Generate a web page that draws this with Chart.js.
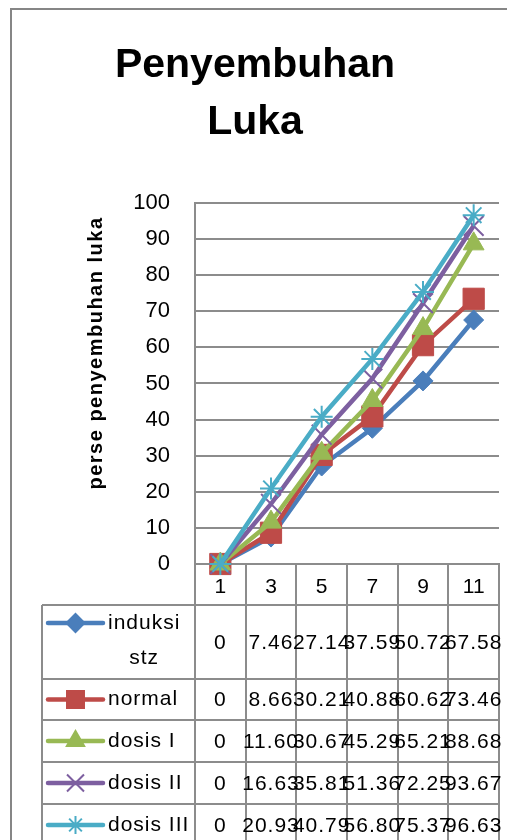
<!DOCTYPE html>
<html>
<head>
<meta charset="utf-8">
<script src="https://cdn.jsdelivr.net/npm/chart.js@4.4.0/dist/chart.umd.min.js"></script>
<style>
  html, body { margin: 0; padding: 0; background: #fff; }
  #wrap { position: relative; width: 507px; height: 840px; }
</style>
</head>
<body>
<div id="wrap"><canvas id="chart" width="507" height="840"></canvas></div>
<script>
// Days of observation (x categories)
const days = ['1', '3', '5', '7', '9', '11'];
// Series names as shown in the data table (first one wraps)
const seriesNames = [['induksi', 'stz'], ['normal'], ['dosis I'], ['dosis II'], ['dosis III']];
// Wound healing percentage per group
const induksiStz = [0, 7.46, 27.14, 37.59, 50.72, 67.58];
const normal = [0, 8.66, 30.21, 40.88, 60.62, 73.46];
const dosisI = [0, 11.60, 30.67, 45.29, 65.21, 88.68];
const dosisII = [0, 16.63, 35.81, 51.36, 72.25, 93.67];
const dosisIII = [0, 20.93, 40.79, 56.80, 75.37, 96.63];
// y axis ticks
const yTicks = [0, 10, 20, 30, 40, 50, 60, 70, 80, 90, 100];

const FONT = "'Liberation Sans', Arial, sans-serif";
const GRID = '#8c8c8c';

const styles = [
    { color: '#4A7EBB', pointStyle: 'rectRot', radius: 10, legendRadius: 9 },
    { color: '#BE4B48', pointStyle: 'rect', radius: 15, legendRadius: 12 },
    { color: '#98B954', pointStyle: 'triangle', radius: 12, legendRadius: 10 },
    { color: '#7D5FA0', pointStyle: 'crossRot', radius: 14, legendRadius: 12 },
    { color: '#4AACC6', pointStyle: 'star', radius: 11, legendRadius: 9 }
];
const allValues = [induksiStz, normal, dosisI, dosisII, dosisIII];

function fmt(v) {
    return v === 0 ? '0' : v.toFixed(2);
}

// Draws the chart frame, the rotated y title and the data table under the plot
const tablePlugin = {
    id: 'dataTable',
    afterDraw(chart) {
        const ctx = chart.ctx;
        const xs = chart.scales.x;
        const area = chart.chartArea;
        const colW = (area.right - area.left) / days.length;
        const rows = [605, 679, 720, 762, 804, 846];
        const legendLeft = 42;

        ctx.save();
        // outer chart border
        ctx.strokeStyle = '#868686';
        ctx.lineWidth = 2;
        ctx.beginPath();
        ctx.moveTo(11, 840);
        ctx.lineTo(11, 9);
        ctx.lineTo(507, 9);
        ctx.stroke();

        // y axis title
        ctx.save();
        ctx.translate(96, 353);
        ctx.rotate(-Math.PI / 2);
        ctx.font = 'bold 20px ' + FONT;
        ctx.letterSpacing = '1.5px';
        ctx.fillStyle = '#000';
        ctx.textAlign = 'center';
        ctx.textBaseline = 'middle';
        ctx.fillText('perse penyembuhan luka', 0, 0);
        ctx.restore();

        // table grid
        ctx.strokeStyle = GRID;
        ctx.lineWidth = 2;
        ctx.beginPath();
        for (let i = 0; i <= days.length; i++) {
            const x = Math.round(area.left + i * colW);
            ctx.moveTo(x, area.bottom);
            ctx.lineTo(x, 840);
        }
        ctx.moveTo(legendLeft, rows[0]);
        ctx.lineTo(legendLeft, 840);
        rows.forEach(y => {
            ctx.moveTo(legendLeft, y);
            ctx.lineTo(area.right, y);
        });
        ctx.stroke();

        // rows: legend key, name, values
        ctx.textBaseline = 'middle';
        allValues.forEach((vals, r) => {
            const top = rows[r];
            const bottom = rows[r + 1];
            const mid = (top + bottom) / 2;
            const names = seriesNames[r];
            const keyY = names.length > 1 ? top + 18 : mid;
            const st = styles[r];

            ctx.strokeStyle = st.color;
            ctx.fillStyle = st.color;
            ctx.lineWidth = 4.5;
            ctx.lineCap = 'round';
            ctx.beginPath();
            ctx.moveTo(48, keyY);
            ctx.lineTo(103, keyY);
            ctx.stroke();
            ctx.lineCap = 'butt';
            ctx.lineWidth = 2;
            Chart.helpers.drawPoint(ctx, {
                pointStyle: st.pointStyle,
                radius: st.legendRadius,
                rotation: 0,
                borderWidth: 2
            }, 75.5, keyY);

            ctx.font = '21px ' + FONT;
            ctx.letterSpacing = '1px';
            ctx.fillStyle = '#000';
            const widths = names.map(n => ctx.measureText(n).width);
            const blockW = Math.max(...widths);
            ctx.textAlign = 'center';
            names.forEach((n, k) => {
                ctx.fillText(n, 108 + blockW / 2, keyY + k * 35);
            });

            vals.forEach((v, i) => {
                ctx.fillText(fmt(v), xs.getPixelForValue(i), mid + 1);
            });
        });
        ctx.restore();
    }
};

const datasets = allValues.map((vals, i) => ({
    label: seriesNames[i].join(' '),
    data: vals,
    borderColor: styles[i].color,
    backgroundColor: styles[i].color,
    borderWidth: 4.5,
    pointStyle: styles[i].pointStyle,
    pointRadius: styles[i].radius,
    pointBorderWidth: (styles[i].pointStyle === 'crossRot' || styles[i].pointStyle === 'star') ? 2 : 1,
    pointBackgroundColor: styles[i].color,
    pointBorderColor: styles[i].color,
    tension: 0,
    clip: false,
    order: allValues.length - i
}));

new Chart(document.getElementById('chart'), {
    type: 'line',
    data: { labels: days, datasets: datasets },
    options: {
        responsive: false,
        animation: false,
        events: [],
        layout: { autoPadding: false, padding: { top: 9, left: 11, right: 8, bottom: 235 } },
        plugins: {
            legend: { display: false },
            tooltip: { enabled: false },
            title: {
                display: true,
                text: ['Penyembuhan', 'Luka'],
                color: '#000',
                font: { family: FONT, size: 41, weight: 'bold', lineHeight: 1.39 },
                padding: { top: 28, bottom: 52 }
            }
        },
        scales: {
            x: {
                type: 'category',
                offset: true,
                grid: { display: false, drawTicks: false },
                border: { display: true, color: GRID, width: 2 },
                ticks: { color: '#000', padding: 11, font: { family: FONT, size: 21 } },
                afterFit: scale => {
                    scale.height = 41;
                    scale.paddingLeft = 0;
                    scale.paddingRight = 0;
                }
            },
            y: {
                min: 0,
                max: 100,
                afterBuildTicks: scale => { scale.ticks = yTicks.map(v => ({ value: v })); },
                grid: { color: GRID, lineWidth: 2, drawTicks: false },
                border: { display: true, color: GRID, width: 2 },
                ticks: { color: '#000', padding: 25, font: { family: FONT, size: 22 } },
                afterFit: scale => {
                    scale.width = 184;
                    scale.paddingTop = 0;
                    scale.paddingBottom = 0;
                }
            }
        }
    },
    plugins: [tablePlugin]
});
</script>
</body>
</html>
